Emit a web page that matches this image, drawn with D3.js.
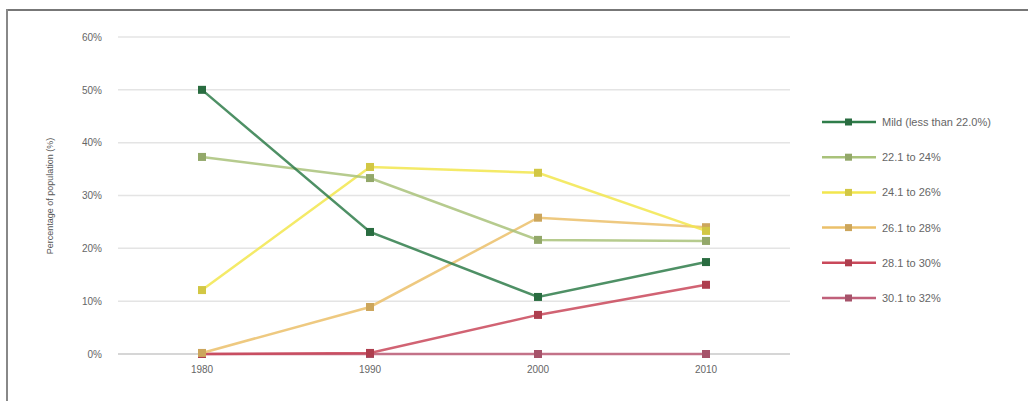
<!DOCTYPE html>
<html>
<head>
<meta charset="utf-8">
<script src="https://cdn.jsdelivr.net/npm/d3@7"></script>
<style>
  body { margin: 0; background: #fff; }
  svg { display: block; font-family: "Liberation Sans", Arial, sans-serif; }
</style>
</head>
<body>
<svg id="chart"></svg>
<script>
// data
const years = ['1980', '1990', '2000', '2010'];
const yTicks = [0, 10, 20, 30, 40, 50, 60];
const seriesNames = ['Mild (less than 22.0%)', '22.1 to 24%', '24.1 to 26%', '26.1 to 28%', '28.1 to 30%', '30.1 to 32%'];
const mildValues = [50, 23.1, 10.8, 17.4];
const band2Values = [37.3, 33.3, 21.6, 21.4];
const band3Values = [12.1, 35.4, 34.3, 23.3];
const band4Values = [0.2, 8.9, 25.8, 24];
const band5Values = [0, 0.2, 7.4, 13.1];
const band6Values = [0, 0, 0, 0];

const width = 1028, height = 401;
const seriesColors = ['#2f7d4a', '#a9c27a', '#f2e64e', '#ebc06a', '#c9485a', '#c0607a'];
const allValues = [mildValues, band2Values, band3Values, band4Values, band5Values, band6Values];

const svg = d3.select('#chart')
    .attr('width', width)
    .attr('height', height);

// frame: only top and left edges show
svg.append('line')
    .attr('x1', 6).attr('x2', width)
    .attr('y1', 10).attr('y2', 10)
    .attr('stroke', '#777').attr('stroke-width', 2);
svg.append('line')
    .attr('x1', 7).attr('x2', 7)
    .attr('y1', 9).attr('y2', height)
    .attr('stroke', '#888').attr('stroke-width', 2);

// scales
const xScale = d3.scaleBand()
    .domain(years)
    .range([118, 790]);

const yScale = d3.scaleLinear()
    .domain([0, 60])
    .range([354, 37]);

// grid lines
svg.append('g')
    .selectAll('line')
    .data(yTicks)
    .join('line')
    .attr('x1', 118)
    .attr('x2', 790)
    .attr('y1', d => yScale(d))
    .attr('y2', d => yScale(d))
    .attr('stroke', d => d === 0 ? '#c8c8c8' : '#e4e4e4')
    .attr('stroke-width', 1.5);

// y axis
const yAxis = svg.append('g')
    .attr('transform', 'translate(108, 0)')
    .call(d3.axisLeft(yScale).tickValues(yTicks).tickFormat(d => d + '%').tickSize(0).tickPadding(6));
yAxis.select('.domain').remove();
yAxis.selectAll('text').attr('fill', '#666').attr('font-size', '10px');

// x axis
const xAxis = svg.append('g')
    .attr('transform', 'translate(0, 354)')
    .call(d3.axisBottom(xScale).tickSize(0).tickPadding(12));
xAxis.select('.domain').remove();
xAxis.selectAll('text').attr('fill', '#666').attr('font-size', '10px');

// y axis title
svg.append('text')
    .attr('transform', 'translate(53, 196) rotate(-90)')
    .attr('text-anchor', 'middle')
    .attr('fill', '#555')
    .attr('font-size', '9px')
    .text('Percentage of population (%)');

// lines and markers
const line = d3.line()
    .x((d, i) => xScale(years[i]) + xScale.bandwidth() / 2)
    .y(d => yScale(d));

for (let s = allValues.length - 1; s >= 0; s--) {
    const values = allValues[s];
    svg.append('path')
        .datum(values)
        .attr('d', line)
        .attr('fill', 'none')
        .attr('stroke', seriesColors[s])
        .attr('stroke-width', 2.5)
        .attr('opacity', 0.85);

    svg.append('g')
        .selectAll('rect')
        .data(values)
        .join('rect')
        .attr('x', (d, i) => xScale(years[i]) + xScale.bandwidth() / 2 - 4)
        .attr('y', d => yScale(d) - 4)
        .attr('width', 8)
        .attr('height', 8)
        .attr('fill', d3.color(seriesColors[s]).darker(0.4));
}

// legend
const legend = svg.append('g');
seriesNames.forEach((name, i) => {
    const y = 122 + i * 35.2;
    legend.append('line')
        .attr('x1', 822).attr('x2', 876)
        .attr('y1', y).attr('y2', y)
        .attr('stroke', seriesColors[i])
        .attr('stroke-width', 2.5);
    legend.append('rect')
        .attr('x', 845).attr('y', y - 3.5)
        .attr('width', 7).attr('height', 7)
        .attr('fill', d3.color(seriesColors[i]).darker(0.4));
    legend.append('text')
        .attr('x', 882)
        .attr('y', y + 4)
        .attr('fill', '#666')
        .attr('font-size', '11px')
        .text(name);
});
</script>
</body>
</html>
